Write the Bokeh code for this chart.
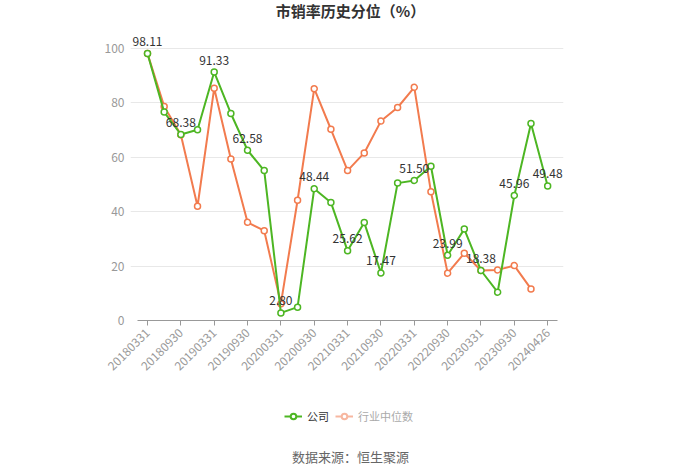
import math
from bokeh.plotting import figure
from bokeh.layouts import column
from bokeh.models import (ColumnDataSource, FixedTicker, Label, LabelSet, Legend, LegendItem)
from bokeh.core.properties import value
from bokeh.embed import file_html
from bokeh.resources import INLINE

dates = ["20180331", "20180630", "20180930", "20181231", "20190331", "20190630",
         "20190930", "20191231", "20200331", "20200630", "20200930", "20201231",
         "20210331", "20210630", "20210930", "20211231", "20220331", "20220630",
         "20220930", "20221231", "20230331", "20230630", "20230930", "20231231",
         "20240426"]
company = [98.11, 76.6, 68.38, 70.1, 91.33, 76.1, 62.58, 55.1, 2.80, 4.9,
           48.44, 43.4, 25.62, 36.0, 17.47, 50.5, 51.50, 56.7, 23.99, 33.6,
           18.38, 10.4, 45.96, 72.4, 49.48]
industry = [98.11, 78.7, 68.3, 42.0, 85.4, 59.4, 36.1, 33.0, 6.2, 44.2,
            85.2, 70.3, 55.1, 61.6, 73.3, 78.3, 85.7, 47.3, 17.4, 24.7,
            18.4, 18.6, 20.2, 11.6]
label_idx = list(range(0, 25, 2))
title_text = "市销率历史分位（%）"
source_text = "数据来源：恒生聚源"
series_names = ["公司", "行业中位数"]

GREEN = "#4DB623"
ORANGE = "#F27B4E"
ORANGE_LIGHT = "#F7B7A0"
FONT = "Noto Sans CJK SC"
LEFT = 130
RIGHT = 137


def blank_fig(h):
    f = figure(width=700, height=h, output_backend="svg", toolbar_location=None,
               x_range=(0, 1), y_range=(0, 1), x_axis_location=None,
               y_axis_location=None)
    f.min_border_left = LEFT
    f.min_border_right = RIGHT
    f.min_border_top = 0
    f.min_border_bottom = 0
    f.outline_line_color = None
    f.xgrid.grid_line_color = None
    f.ygrid.grid_line_color = None
    f.border_fill_color = "white"
    return f


# header
p0 = blank_fig(30)
p0.add_layout(Label(x=350 - LEFT, y=20, x_units="screen", y_units="screen",
                    text=title_text, text_align="center", text_baseline="middle",
                    text_font=FONT, text_font_size="15px", text_font_style="bold",
                    text_color="#333333"))

# main chart
p = figure(width=700, height=365, output_backend="svg", toolbar_location=None,
           x_range=(-1.02, 24.95), y_range=(0, 106.6))
p.min_border_left = LEFT
p.min_border_right = RIGHT
p.min_border_top = 0
p.min_border_bottom = 75
p.outline_line_color = None
p.background_fill_color = "white"
p.border_fill_color = "white"

xs_c = list(range(len(company)))
xs_i = list(range(len(industry)))
src_c = ColumnDataSource(dict(x=xs_c, y=company))
src_i = ColumnDataSource(dict(x=xs_i, y=industry))

p.line("x", "y", source=src_i, line_color=ORANGE, line_width=2)
p.scatter("x", "y", source=src_i, size=6, marker="circle", fill_color="white",
          line_color=ORANGE, line_width=1.5)
p.line("x", "y", source=src_c, line_color=GREEN, line_width=2)
p.scatter("x", "y", source=src_c, size=6, marker="circle", fill_color="white",
          line_color=GREEN, line_width=1.5)

lab_src = ColumnDataSource(dict(x=[i for i in label_idx],
                                y=[company[i] for i in label_idx],
                                t=["%.2f" % company[i] for i in label_idx]))
p.add_layout(LabelSet(x="x", y="y", text="t", source=lab_src, text_align="center",
                      text_baseline="middle", y_offset=12, text_font_size="12px",
                      text_color="#333333", text_font=value(FONT)))

p.yaxis.ticker = FixedTicker(ticks=[0, 20, 40, 60, 80, 100])
p.yaxis.axis_line_color = None
p.yaxis.major_tick_line_color = None
p.yaxis.minor_tick_line_color = None
p.yaxis.major_label_text_color = "#999999"
p.yaxis.major_label_text_font_size = "12px"
p.yaxis.major_label_text_font = FONT
p.yaxis.major_label_standoff = 0

p.xaxis.ticker = FixedTicker(ticks=label_idx)
p.xaxis.bounds = (-0.6, 24.6)
p.xaxis.major_label_overrides = {i: dates[i] for i in label_idx}
p.xaxis.major_label_orientation = math.pi / 4
p.xaxis.axis_line_color = "#999999"
p.xaxis.major_tick_line_color = "#999999"
p.xaxis.major_tick_in = 0
p.xaxis.major_tick_out = 5
p.xaxis.minor_tick_line_color = None
p.xaxis.major_label_text_color = "#999999"
p.xaxis.major_label_text_font_size = "12px"
p.xaxis.major_label_text_font = FONT

p.xgrid.grid_line_color = None
p.ygrid.ticker = FixedTicker(ticks=[20, 40, 60, 80, 100])
p.ygrid.grid_line_color = "#E8E8E8"

# footer: legend + source
p2 = blank_fig(79)
nan = float("nan")
r1 = p2.line([nan], [nan], line_color=GREEN, line_width=2)
r1b = p2.scatter([nan], [nan], size=9, marker="circle",
                 fill_color="white", line_color=GREEN, line_width=2)
r2 = p2.line([nan], [nan], line_color=ORANGE_LIGHT, line_width=2)
r2b = p2.scatter([nan], [nan], size=9, marker="circle",
                 fill_color="white", line_color=ORANGE_LIGHT, line_width=2)
common = dict(orientation="horizontal", border_line_color=None,
              background_fill_alpha=0, label_text_font=FONT,
              label_text_font_size="11px", glyph_width=18, glyph_height=14,
              label_height=14, label_standoff=5, spacing=0, padding=0, margin=0)
leg1 = Legend(items=[LegendItem(label=series_names[0], renderers=[r1, r1b])],
              location=(284 - LEFT, 50), label_text_color="#333333", **common)
leg2 = Legend(items=[LegendItem(label=series_names[1], renderers=[r2, r2b])],
              location=(335 - LEFT, 50), label_text_color="#AAAAAA", **common)
p2.add_layout(leg1, "center")
p2.add_layout(leg2, "center")

p2.add_layout(Label(x=350 - LEFT, y=18, x_units="screen", y_units="screen",
                    text=source_text, text_align="center", text_baseline="middle",
                    text_font=FONT, text_font_size="13px", text_color="#666666"))

layout = column(p0, p, p2, spacing=0)
open("out.html", "w").write(file_html(layout, INLINE))
